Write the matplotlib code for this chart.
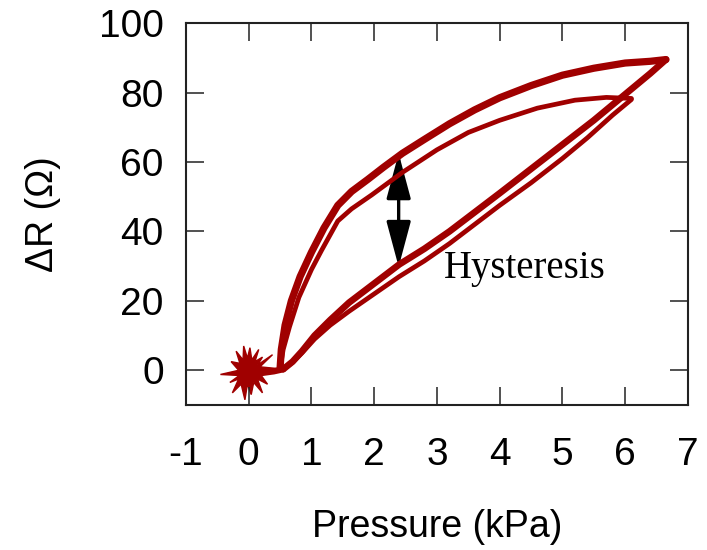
"""Hysteresis loop of the pressure sensor: resistance change vs applied pressure."""

import matplotlib.pyplot as plt
from matplotlib.patches import FancyArrowPatch, Polygon

# Loading / unloading traces (kPa, Ohm)
load_outer_x = [0.50, 0.52, 0.58, 0.68, 0.82, 1.00, 1.20, 1.42, 1.64, 1.90, 2.15,
                2.45, 2.80, 3.20, 3.60, 4.00, 4.50, 5.00, 5.50, 6.00, 6.40, 6.65]
load_outer_y = [0.5, 6.0, 13.0, 20.0, 27.0, 34.0, 41.0, 47.5, 51.5, 55.0, 58.5,
                62.5, 66.5, 71.0, 75.0, 78.5, 82.0, 85.0, 87.0, 88.5, 89.0, 89.5]

load_inner_x = [0.50, 0.55, 0.65, 0.80, 1.00, 1.16, 1.42, 1.64, 1.96, 2.45, 3.00,
                3.50, 4.00, 4.60, 5.20, 5.70, 6.10]
load_inner_y = [0.5, 6.0, 12.5, 21.0, 29.0, 34.5, 43.0, 46.5, 50.5, 57.0, 63.5,
                68.5, 72.0, 75.5, 77.8, 78.6, 78.3]

unload_outer_x = [6.65, 6.40, 6.00, 5.50, 5.00, 4.50, 4.00, 3.60, 3.20, 2.80, 2.40,
                  2.00, 1.60, 1.30, 1.05, 0.85, 0.70, 0.55]
unload_outer_y = [89.5, 85.5, 79.5, 72.0, 65.0, 58.0, 51.0, 45.5, 40.0, 35.0, 30.5,
                  25.0, 19.5, 14.5, 10.0, 5.5, 2.5, 0.3]

unload_inner_x = [6.10, 5.80, 5.40, 5.00, 4.50, 4.00, 3.60, 3.20, 2.80, 2.40, 2.00,
                  1.60, 1.30, 1.05, 0.85, 0.70, 0.55]
unload_inner_y = [78.0, 73.5, 67.0, 61.0, 54.0, 47.5, 42.0, 36.5, 31.5, 27.0, 22.0,
                  17.0, 13.0, 9.0, 5.0, 2.3, 0.3]

# baseline segment joining the noise cluster to the start of the loops
base_x = [0.0, 0.2, 0.4, 0.55]
base_y = [-0.5, -0.8, -0.3, 0.3]

# zero-pressure noise burst (outline vertices, going round the centre)
noise_x = [-0.45, -0.16, -0.28, -0.14, -0.20, -0.09, -0.08, -0.02, 0.02, 0.05,
           0.16, 0.10, 0.22, 0.14, 0.38, 0.18, 0.46, 0.20, 0.30, 0.14, 0.22,
           0.08, 0.04, -0.02, -0.06, -0.12, -0.26, -0.16, -0.30, -0.15]
noise_y = [-1.2, 0.0, 2.5, 2.0, 5.5, 3.0, 7.0, 3.5, 6.5, 3.0,
           6.0, 2.5, 3.8, 1.5, 4.5, 1.0, 0.5, -1.5, -4.0, -2.5, -6.5,
           -3.5, -7.0, -4.0, -8.5, -4.0, -6.5, -2.5, -3.5, -1.5]

arrow_x = 2.39
arrow_top = 62.5
arrow_bottom = 29.8

xticks = [-1, 0, 1, 2, 3, 4, 5, 6, 7]
yticks = [0, 20, 40, 60, 80, 100]

RED = "#a00000"

plt.rcParams["font.family"] = ["Liberation Sans", "DejaVu Sans"]
plt.rcParams["axes.unicode_minus"] = False

fig = plt.figure(figsize=(7.07, 5.5), dpi=100)
ax = fig.add_axes([0.263, 0.2636, 0.710, 0.6944])

ax.plot(load_outer_x, load_outer_y, color=RED, lw=5.2, solid_capstyle="round")
ax.plot(load_inner_x, load_inner_y, color=RED, lw=3.4, solid_capstyle="round")
ax.plot(unload_outer_x, unload_outer_y, color=RED, lw=4.8, solid_capstyle="round")
ax.plot(unload_inner_x, unload_inner_y, color=RED, lw=3.4, solid_capstyle="round")
ax.plot(base_x, base_y, color=RED, lw=4.5, solid_capstyle="round")
ax.add_patch(Polygon(list(zip(noise_x, noise_y)), closed=True,
                     facecolor=RED, edgecolor=RED, lw=1.0))

arrow = FancyArrowPatch((arrow_x, arrow_bottom), (arrow_x, arrow_top),
                        arrowstyle="<|-|>,head_length=28,head_width=7.5",
                        mutation_scale=1, color="black", lw=2.4,
                        shrinkA=0, shrinkB=0)
ax.add_patch(arrow)
ax.text(3.11, 26.5, "Hysteresis", family="Liberation Serif", fontsize=28,
        ha="left", va="baseline")

ax.set_xlim(-1, 7)
ax.set_ylim(-10, 100)
ax.set_xticks(xticks)
ax.set_yticks(yticks)
ax.tick_params(direction="in", length=13, width=1.1, top=True, right=True,
               labelsize=28, color="#222222")
ax.tick_params(axis="x", pad=23)
ax.tick_params(axis="y", pad=16)
for spine in ax.spines.values():
    spine.set_linewidth(1.5)
    spine.set_color("#222222")

ax.set_xlabel("Pressure (kPa)", fontsize=27, labelpad=26)
ax.set_ylabel("ΔR (Ω)", fontsize=27, labelpad=27)

fig.savefig("out.png", dpi=100)
